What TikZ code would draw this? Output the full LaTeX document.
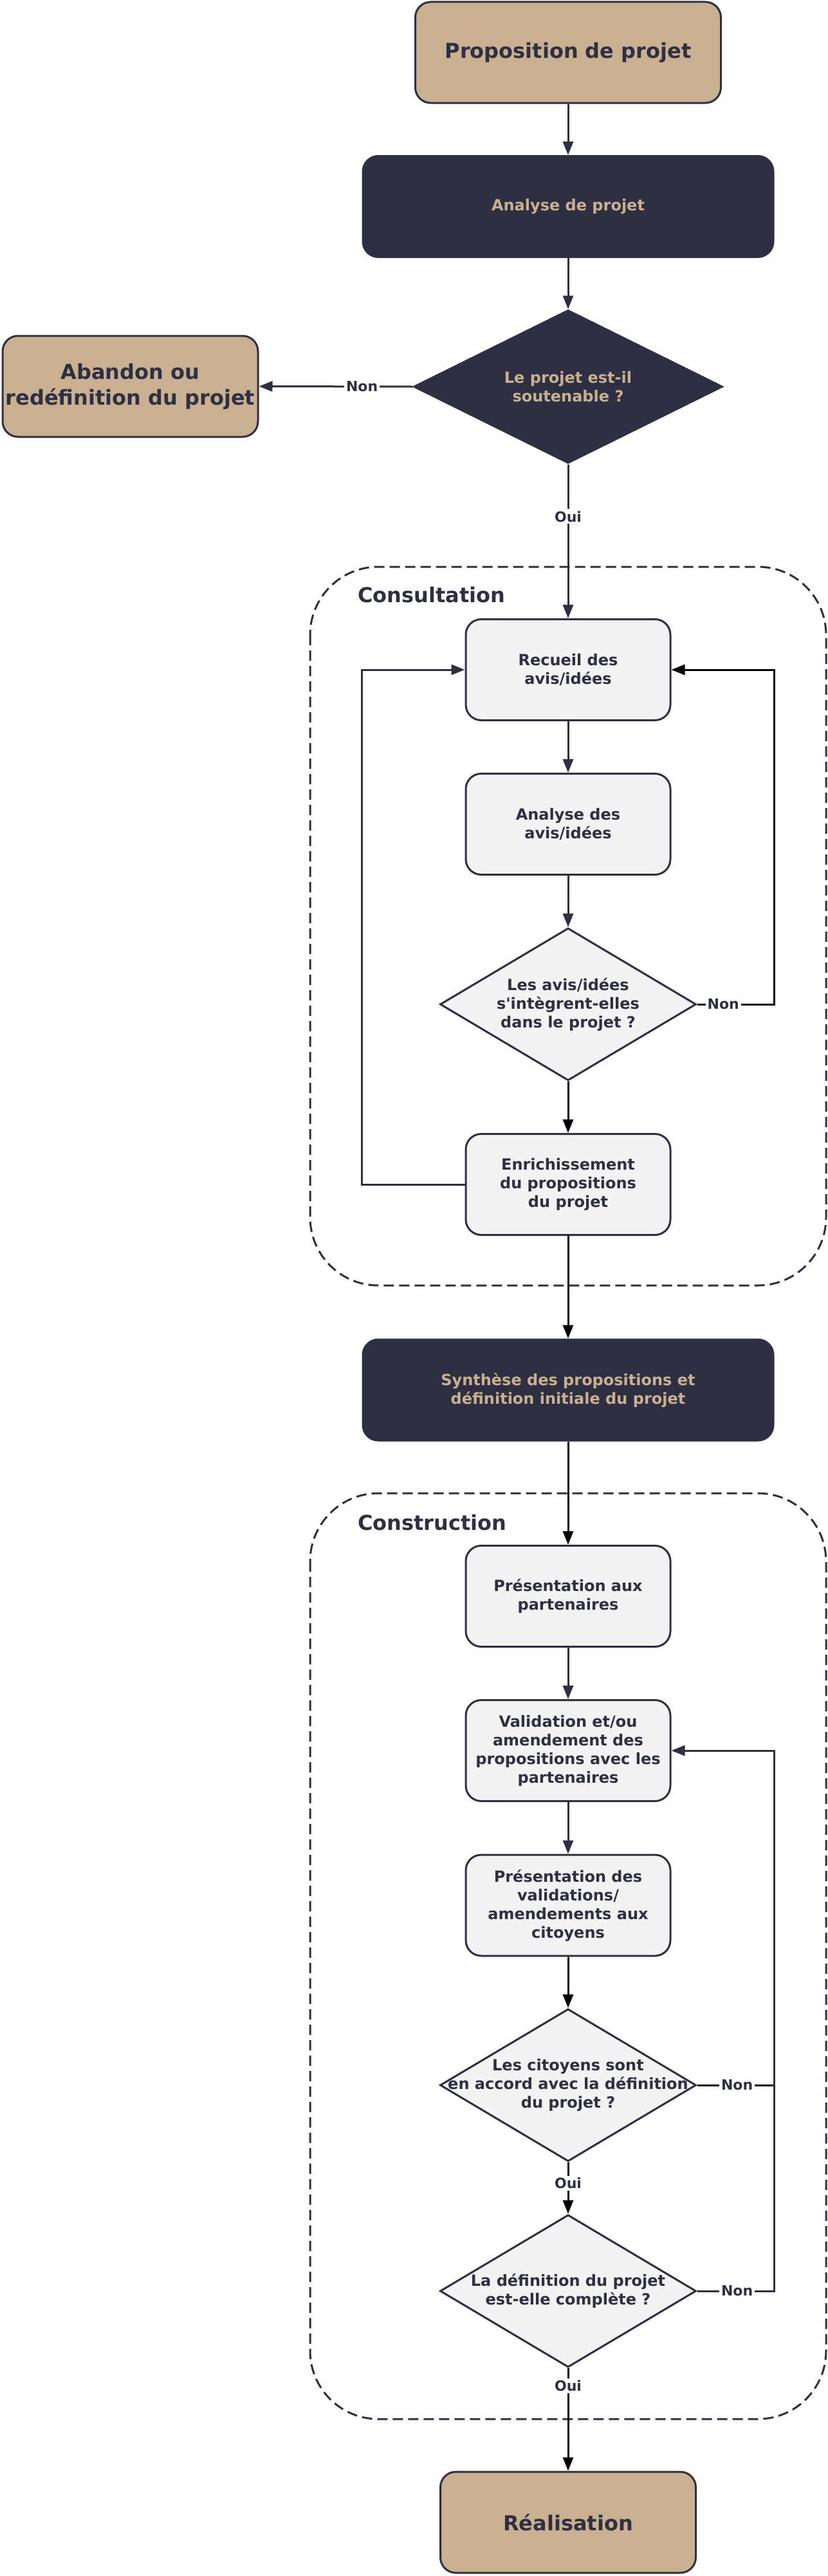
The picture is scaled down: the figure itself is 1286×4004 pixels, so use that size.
\documentclass[tikz,border=0pt]{standalone}
\usepackage{fontspec}
\setmainfont{DejaVu Sans}
\usetikzlibrary{shapes.geometric,arrows.meta}
\tikzset{
  big-font/.style={font=\bfseries\fontsize{16}{19.8}\selectfont},
  small-font/.style={font=\bfseries\fontsize{12}{14.5}\selectfont},
  box/.style={
    rectangle,
    rounded corners=12pt,
    line width=1.5pt,
    align=center,
    inner sep=2pt
  },
  box-tan/.style={box, big-font, draw=ink, fill=tan, text=ink, minimum height=78.5pt},
  box-dark/.style={box, small-font, draw=ink, fill=ink, text=tan, minimum width=319pt, minimum height=78.5pt},
  box-light/.style={box, small-font, draw=ink, fill=paper, text=ink, minimum width=159pt, minimum height=78.5pt},
  decision/.style={diamond, line width=1.5pt, inner sep=0pt},
  decision-dark/.style={decision, draw=ink, fill=ink, minimum width=240pt, minimum height=119pt},
  decision-light/.style={decision, draw=ink, fill=paper, minimum width=199pt, minimum height=118.5pt},
  decision-text/.style={small-font, align=center, inner sep=0pt},
  group-frame/.style={draw=ink, line width=1.5pt, dash pattern=on 8pt off 4pt, rounded corners=53pt},
  group-title/.style={big-font, anchor=west, text=ink, inner sep=0pt},
  edge/.style={line width=1.5pt, draw=ink},
  edge-black/.style={edge, draw=black},
  flow/.style={-{Triangle[length=10.5pt,width=8pt]}},
  answer/.style={fill=white, inner sep=1.5pt, text=ink, font=\bfseries\fontsize{11}{12}\selectfont}
}
\definecolor{ink}{RGB}{46,47,66}
\definecolor{tan}{RGB}{200,176,144}
\definecolor{paper}{RGB}{243,243,243}

\begin{document}
\begin{tikzpicture}[x=0.5pt, y=-0.5pt]
  \useasboundingbox (0,0) rectangle (1286,4004);
  % dashed groups
  \draw[group-frame] (482,881) rectangle (1284,1998);
  \draw[group-frame] (482,2321) rectangle (1284,3760);
  \node[group-title] (title-consult) at (556,925) {Consultation};
  \node[group-title] (title-construct) at (556,2367) {Construction};

  % top part
  \node[box-tan, minimum width=237.5pt] (prop) at (883,81.5) {Proposition de projet};
  \node[box-dark] (analyse) at (883,321) {Analyse de projet};
  \node[decision-dark] (q1) at (883,601) {};
  \node[decision-text, text=tan] (q1-text) at (q1) {Le projet est-il\\soutenable ?};
  \node[box-tan, minimum width=198.5pt] (abandon) at (202.5,600.5) {Abandon ou\\redéfinition du projet};

  % consultation
  \node[box-light] (recueil) at (883,1041) {Recueil des\\avis/idées};
  \node[box-light] (avis) at (883,1281) {Analyse des\\avis/idées};
  \node[decision-light] (q2) at (883,1561) {};
  \node[decision-text, text=ink] (q2-text) at (q2) {Les avis/idées\\s\textquotesingle intègrent-elles\\dans le projet ?};
  \node[box-light] (enrich) at (883,1841) {Enrichissement\\du propositions\\du projet};

  \node[box-dark] (synth) at (883,2160.5) {Synthèse des propositions et\\définition initiale du projet};

  % construction
  \node[box-light] (pres) at (883,2481) {Présentation aux\\partenaires};
  \node[box-light] (valid) at (883,2721) {Validation et/ou\\amendement des\\propositions avec les\\partenaires};
  \node[box-light] (pval) at (883,2961.5) {Présentation des\\validations/\\amendements aux\\citoyens};
  \node[decision-light] (q3) at (883,3241) {};
  \node[decision-text, text=ink] (q3-text) at (q3) {Les citoyens sont\\en accord avec la définition\\du projet ?};
  \node[decision-light] (q4) at (883,3561) {};
  \node[decision-text, text=ink] (q4-text) at (q4) {La définition du projet\\est-elle complète ?};
  \node[box-tan, minimum width=198.5pt] (real) at (883,3920.5) {Réalisation};
  \coordinate (rail) at (1203,0);

  % connectors
  \foreach \a/\b in {prop/analyse, analyse/q1, recueil/avis, avis/q2, pres/valid, valid/pval} {
    \draw[edge, flow] (\a.south) -- (\b.north);
  }
  \foreach \a/\b in {q2/enrich, enrich/synth, synth/pres, pval/q3} {
    \draw[edge-black, flow] (\a.south) -- (\b.north);
  }
  \draw[edge, flow] (q1.west) -- node[answer, pos=0.33] {Non} (abandon.east);
  \draw[edge, flow] (q1.south) -- node[answer, pos=0.34] {Oui} (recueil.north);
  \draw[edge-black, flow] (q2.east) -- node[answer, pos=0.34] {Non} ++(120,0) |- (recueil.east);
  \draw[edge, flow] (enrich.west) -- ++(-160,0) |- (recueil.west);
  \draw[edge-black, flow] (q3.south) -- node[answer, pos=0.4] {Oui} (q4.north);
  \draw[edge-black, flow] (q4.south) -- node[answer, pos=0.17] {Oui} (real.north);
  \draw[edge-black] (q3.east) -- node[answer, pos=0.52] {Non} (q3.east -| rail);
  \draw[edge, flow] (q4.east) -- node[answer, pos=0.52] {Non} (q4.east -| rail) |- (valid.east);
\end{tikzpicture}
\end{document}
